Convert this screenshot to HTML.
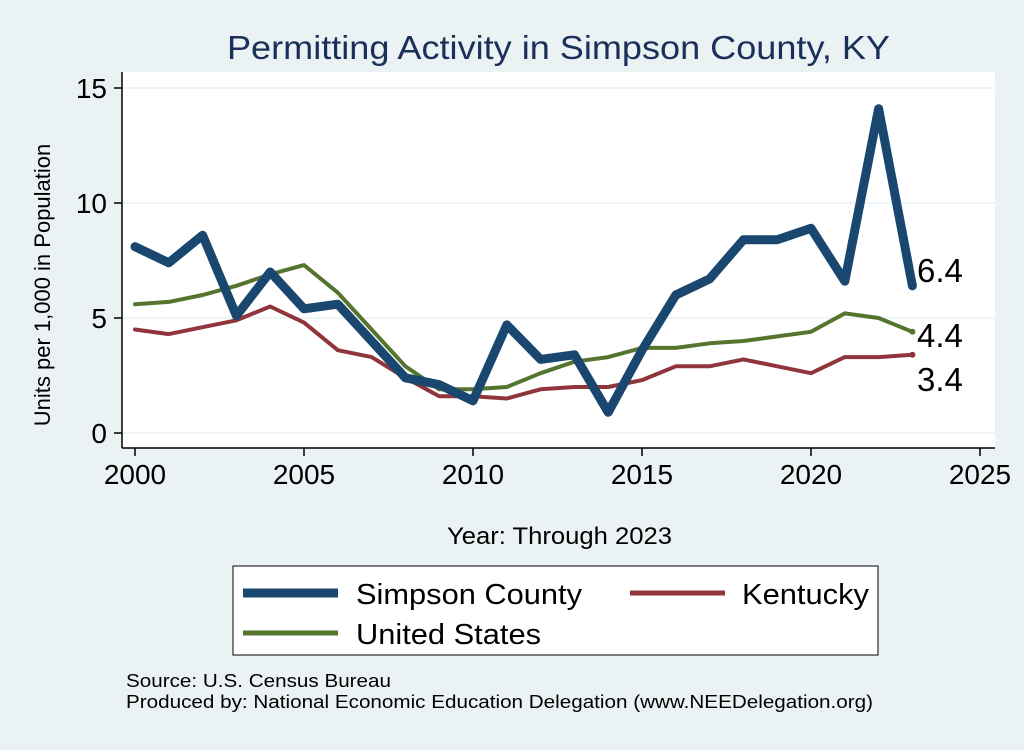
<!DOCTYPE html>
<html><head><meta charset="utf-8"><style>
body{margin:0;background:#eaf2f3;font-family:"Liberation Sans",sans-serif}
</style></head><body>
<svg width="1024" height="745" xmlns="http://www.w3.org/2000/svg" font-family="Liberation Sans, sans-serif">
<rect x="0" y="0" width="1024" height="745" fill="#eaf2f3"/>
<text x="227" y="59" textLength="663" lengthAdjust="spacingAndGlyphs" font-size="33" fill="#1a2f5a">Permitting Activity in Simpson County, KY</text>
<rect x="122" y="72" width="873" height="376" fill="#fff"/>
<g id="grid"></g>
<line x1="122" y1="72" x2="122" y2="448" stroke="#000" stroke-width="1.5"/>
<line x1="122" y1="448" x2="995" y2="448" stroke="#000" stroke-width="1.5"/>
<g id="ticks"></g>
<g id="lines"></g>
<text x="50" y="285" transform="rotate(-90 50 285)" text-anchor="middle" font-size="22">Units per 1,000 in Population</text>
<text x="447" y="544" textLength="225" lengthAdjust="spacingAndGlyphs" font-size="24">Year: Through 2023</text>
<g>
<rect x="233" y="566" width="645" height="89" fill="#fff" stroke="#000" stroke-width="1"/>
<line x1="243" y1="593" x2="338" y2="593" stroke="#1a476f" stroke-width="9"/>
<text x="356" y="604" textLength="226" lengthAdjust="spacingAndGlyphs" font-size="29">Simpson County</text>
<line x1="630" y1="593" x2="725" y2="593" stroke="#90353b" stroke-width="5"/>
<text x="742" y="604" textLength="127" lengthAdjust="spacingAndGlyphs" font-size="29">Kentucky</text>
<line x1="243" y1="633" x2="338" y2="633" stroke="#55752f" stroke-width="5"/>
<text x="356" y="644" textLength="185" lengthAdjust="spacingAndGlyphs" font-size="29">United States</text>
</g>
<text x="126" y="687" textLength="265" lengthAdjust="spacingAndGlyphs" font-size="18">Source: U.S. Census Bureau</text>
<text x="126" y="708" textLength="747" lengthAdjust="spacingAndGlyphs" font-size="18">Produced by: National Economic Education Delegation (www.NEEDelegation.org)</text>
</svg>
<script>
const years=[2000,2001,2002,2003,2004,2005,2006,2007,2008,2009,2010,2011,2012,2013,2014,2015,2016,2017,2018,2019,2020,2021,2022,2023];
const simpson=[8.1,7.4,8.6,5.1,7.0,5.4,5.6,4.0,2.4,2.1,1.4,4.7,3.2,3.4,0.9,3.6,6.0,6.7,8.4,8.4,8.9,6.6,14.1,6.4];
const us=[5.6,5.7,6.0,6.4,6.9,7.3,6.1,4.5,2.9,1.9,1.9,2.0,2.6,3.1,3.3,3.7,3.7,3.9,4.0,4.2,4.4,5.2,5.0,4.4];
const kentucky=[4.5,4.3,4.6,4.9,5.5,4.8,3.6,3.3,2.4,1.6,1.6,1.5,1.9,2.0,2.0,2.3,2.9,2.9,3.2,2.9,2.6,3.3,3.3,3.4];
const xTicks=[2000,2005,2010,2015,2020,2025];
const yTicks=[0,5,10,15];
const NS="http://www.w3.org/2000/svg";
const xs=v=>135+(v-2000)*(980-135)/25;
const ys=v=>433-v*(433-88)/15;
function mk(t,a,p){const e=document.createElementNS(NS,t);for(const k in a)e.setAttribute(k,a[k]);p.appendChild(e);return e;}
const grid=document.getElementById('grid'),ticks=document.getElementById('ticks'),lines=document.getElementById('lines');
yTicks.forEach(v=>{
 const g=mk('line',{x1:122,x2:995,y1:ys(v),y2:ys(v),stroke:'#eaf2f3','stroke-width':1.5},grid);
 
 
 const t=mk('line',{x1:114,x2:122,y1:ys(v),y2:ys(v),stroke:'#000','stroke-width':1.5},ticks);
 
 
 const l=mk('text',{x:107,y:ys(v)+10,'text-anchor':'end','font-size':28},ticks);l.textContent=v;
 
 
});
xTicks.forEach(v=>{
 const t=mk('line',{x1:xs(v),x2:xs(v),y1:448,y2:456,stroke:'#000','stroke-width':1.5},ticks);
 
 
 const l=mk('text',{x:xs(v),y:484,'text-anchor':'middle','font-size':28},ticks);l.textContent=v;
 
 
});
function series(d,c,w,name){
 const p=mk('polyline',{points:d.map((v,i)=>xs(years[i])+','+ys(v)).join(' '),fill:'none',stroke:c,'stroke-width':w,'stroke-linejoin':'round','stroke-linecap':'round'},lines);
 
 
 const n=d.length-1;
 const dot=mk('circle',{cx:xs(years[n]),cy:ys(d[n]),r:3,fill:c},lines);
 
 
}
series(kentucky,'#90353b',4,'kentucky');
series(us,'#55752f',4,'us');
series(simpson,'#1a476f',9,'simpson');
const n=years.length-1;
const labs=[[simpson[n],ys(simpson[n])-4,'simpson'],[us[n],ys(us[n])+15,'us'],[kentucky[n],ys(kentucky[n])+36,'kentucky']];
labs.forEach(([v,y,nm])=>{
 const t=mk('text',{x:917,y:y,'font-size':33},lines);t.textContent=v.toFixed(1);
 
 
});
</script>
</body></html>
